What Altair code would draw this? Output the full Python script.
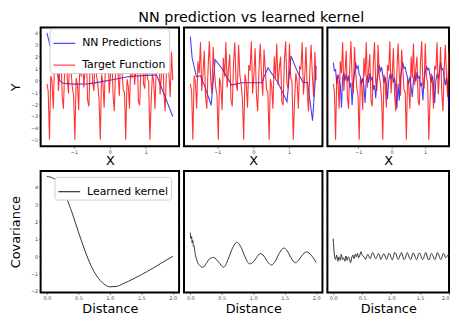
import altair as alt
import pandas as pd
import numpy as np

FONT = "DejaVu Sans"

# ---------------- data ----------------
x_grid = np.linspace(-1.75, 1.75, 100)
target = [
    -0.3, -0.9, -5.0, 0.4, -0.1, -2.4, 1.6, 0.6, 3.2, -0.9,
    0.6, 2.5, -1.4, -2.4, 1.1, 3.3, 0.1, -1.1, 2.8, 0.7,
    -0.6, -1.3, -5.0, 0.2, -0.4, -2.5, 1.9, 0.3, 3.2, -0.6,
    0.9, 2.2, -1.7, -2.2, 1.4, 3.2, -0.2, -0.9, 3.0, 0.4,
    -0.3, -1.6, -5.0, 0.5, -0.2, -2.3, 1.3, 0.8, 3.3, -1.1,
    0.4, 2.7, -1.2, -2.6, 0.8, 3.1, 0.4, -1.3, 2.6, 0.9,
    -0.8, -1.0, -5.0, 0.1, -0.5, -2.4, 2.0, 0.2, 3.1, -0.4,
    1.0, 2.0, -1.8, -2.1, 1.6, 3.3, -0.3, -0.7, 3.1, 0.2,
    -0.1, -5.0, -1.8, 0.6, -0.1, -2.4, 1.2, 0.9, 3.2, -1.2,
    0.3, 2.8, -1.0, -2.6, 0.7, 3.0, 0.5, -1.4, 2.4, 0.0,
]
nn1_x = [-1.75, -1.55, -1.40, -1.30, -1.0, -0.6, -0.3, 0.0, 0.5, 1.0, 1.3, 1.75]
nn1_y = [4.0, 1.5, 0.0, -0.25, -0.32, -0.3, -0.15, 0.0, 0.3, 0.42, 0.45, -3.05]
nn2_x = [-1.75, -1.70, -1.58, -1.47, -1.36, -1.17, -1.06, -0.87, -0.60, -0.32,
         0.23, 0.41, 0.69, 0.94, 1.05, 1.24, 1.38, 1.51, 1.65, 1.75]
nn2_y = [3.7, 1.9, 0.3, 0.4, -0.4, -2.1, 1.75, 1.0, -0.4, -0.2,
         -0.2, 1.05, -0.2, -1.8, 2.05, 0.65, -0.15, -0.2, -3.4, 1.2]
nn3_y = [
    1.5, 0.8, 0.9, -0.3, 0.5, 0.1, -0.4, -2.3, 0.3, 0.6,
    0.0, 0.5, -0.1, 0.4, -0.6, -0.2, -2.1, -0.3, 0.6, 1.5,
    1.0, 1.2, 0.5, 0.3, -0.3, 0.2, -0.5, -1.9, 0.1, 0.4,
    -0.2, 0.6, 0.0, 0.3, -0.8, -0.4, -1.5, 0.0, 0.5, 1.3,
    0.8, 1.1, 0.4, -0.2, 0.3, -0.4, -1.6, -0.1, 0.5, 0.1,
    0.6, -0.2, 0.2, -0.6, -2.4, -0.3, -1.7, 0.2, 0.9, 1.5,
    1.0, 1.1, 0.6, 0.2, -0.3, 0.3, -0.5, -1.4, 0.0, 0.5,
    -0.1, 0.7, 0.2, 0.3, -0.5, -0.2, -1.7, 0.1, 0.6, 1.2,
    0.9, 1.0, 0.4, -0.2, 0.4, -0.3, -1.9, 0.0, 0.5, 0.2,
    0.7, 1.5, 0.9, 1.0, 0.3, -0.4, 0.2, -0.6, -2.4, 0.3,
]
k1_x = [0.0, 0.1, 0.2, 0.3, 0.4, 0.5, 0.6, 0.7, 0.8, 0.9, 1.0,
        1.1, 1.2, 1.3, 1.4, 1.5, 1.6, 1.7, 1.8, 1.9, 2.0]
k1_y = [4.6, 4.5, 4.15, 3.45, 2.5, 1.4, 0.35, -0.55, -1.2, -1.6, -1.78,
        -1.76, -1.62, -1.45, -1.27, -1.08, -0.88, -0.67, -0.45, -0.23, -0.02]
k2_x = [0.0, 0.01, 0.02, 0.03, 0.04, 0.05, 0.06, 0.07, 0.08, 0.1, 0.15, 0.2, 0.25,
        0.3, 0.37, 0.45, 0.53, 0.6, 0.67, 0.74, 0.8, 0.87, 0.94, 1.0, 1.05, 1.11,
        1.17, 1.23, 1.29, 1.35, 1.42, 1.48, 1.54, 1.6, 1.67, 1.73, 1.79, 1.85, 1.92, 2.0]
k2_y = [1.35, 1.0, 1.15, 0.75, 0.9, 0.55, 0.6, 0.3, 0.1, -0.2, -0.55, -0.65, -0.45,
        -0.18, -0.08, -0.35, -0.65, -0.2, 0.45, 0.8, 0.55, -0.05, -0.45, -0.35, -0.1, 0.14,
        0.0, -0.35, -0.52, -0.3, 0.2, 0.46, 0.3, -0.1, -0.39, -0.2, 0.1, 0.24, 0.05, -0.37]
k3_y = [
    1.0, 0.1, -0.2, 0.05, -0.3, -0.05, -0.25, 0.1, -0.2, -0.1,
    -0.3, 0.0, -0.25, -0.05, -0.15, -0.38, -0.1, 0.05, -0.15, 0.1,
    -0.05, 0.15, -0.1, 0.05, 0.25, 0.05, 0.0, -0.1, -0.2, 0.0,
    0.1, -0.05, -0.15, 0.05, 0.2, 0.1, -0.1, -0.15, 0.0, 0.15,
    0.05, -0.2, -0.1, 0.1, 0.12, -0.05, -0.2, -0.05, 0.15, 0.1,
    -0.1, -0.22, -0.05, 0.2, 0.15, -0.05, -0.2, -0.1, 0.1, 0.2,
    0.0, -0.2, -0.15, 0.05, 0.2, 0.05, -0.15, -0.2, 0.0, 0.18,
    0.1, -0.1, -0.22, -0.05, 0.15, 0.15, -0.05, -0.2, -0.15, 0.1,
    0.2, 0.0, -0.2, -0.2, 0.05, 0.15, 0.05, -0.15, -0.2, 0.0,
    0.2, 0.1, -0.1, -0.2, -0.05, 0.15, 0.1, -0.1, -0.05, 0.05, 0.0,
]
k3_x = np.linspace(0, 2, len(k3_y))

top_ticks_x = [-1, 0, 1]
top_ticks_y = [-5, -4, -3, -2, -1, 0, 1, 2, 3, 4]
bot_ticks_x = [0.0, 0.5, 1.0, 1.5, 2.0]
bot_ticks_y = [-2, -1, 0, 1, 2, 3, 4]

# ---------------- chart ----------------
WIDTHS = [140, 140, 123]
H_TOP, H_BOT = 120, 123
XDOM_TOP = [[-1.925, 1.925], [-1.925, 1.925], [-1.925, 1.72]]
XDOM_BOT = [[-0.1, 2.1], [-0.1, 2.1], [-0.1, 2.0]]
ys_top = alt.Scale(domain=[-5.55, 4.45], nice=False, zero=False)
ys_bot = alt.Scale(domain=[-2.11, 4.92], nice=False, zero=False)


def ax(values, title=None, labels=True, fmt=None, tpad=2):
    kw = dict(values=values, labels=labels, titlePadding=tpad, title=title)
    if fmt:
        kw["format"] = fmt
    return alt.Axis(**kw)


def make_legend(x, y):
    return alt.Legend(orient="none", legendX=x, legendY=y, title=None,
                      symbolType="stroke", symbolSize=484, symbolStrokeWidth=1.2,
                      labelFontSize=11, labelFont=FONT, labelColor="black",
                      fillColor="white", strokeColor="#cccccc", padding=3,
                      cornerRadius=3, rowPadding=5, labelOffset=6)


def top_panel(nn_df, idx):
    tgt_df = pd.DataFrame({"x": x_grid, "y": target, "s": "Target Function"})
    nn_df = nn_df.assign(s="NN Predictions")
    xs = alt.Scale(domain=XDOM_TOP[idx], nice=False, zero=False)
    xenc = alt.X("x:Q", scale=xs, axis=ax(top_ticks_x, "X", fmt="d", tpad=1))
    yenc = alt.Y("y:Q", scale=ys_top,
                 axis=ax(top_ticks_y, "Y" if idx == 0 else None, labels=(idx == 0), fmt="d", tpad=8))
    if idx == 0:
        color = alt.Color(
            "s:N",
            scale=alt.Scale(domain=["NN Predictions", "Target Function"], range=["blue", "red"]),
            legend=make_legend(9, 1),
        )
        bc, rc = color, color
    else:
        bc, rc = alt.value("blue"), alt.value("red")
    blue = alt.Chart(nn_df).mark_line(strokeWidth=1.1, opacity=0.75, clip=True).encode(
        x=xenc, y=yenc, color=bc)
    red = alt.Chart(tgt_df).mark_line(strokeWidth=1.1, opacity=0.8, clip=True).encode(
        x=xenc, y=yenc, color=rc)
    return alt.layer(blue, red).properties(width=WIDTHS[idx], height=H_TOP)


def bot_panel(kx, ky, idx):
    df = pd.DataFrame({"x": kx, "y": ky, "s": "Learned kernel"})
    xs = alt.Scale(domain=XDOM_BOT[idx], nice=False, zero=False)
    xenc = alt.X("x:Q", scale=xs, axis=ax(bot_ticks_x, "Distance", fmt=".1f", tpad=2))
    yenc = alt.Y("y:Q", scale=ys_bot,
                 axis=ax(bot_ticks_y, "Covariance" if idx == 0 else None, labels=(idx == 0), fmt="d", tpad=8))
    if idx == 0:
        color = alt.Color(
            "s:N",
            scale=alt.Scale(domain=["Learned kernel"], range=["#333333"]),
            legend=make_legend(14, 6),
        )
    else:
        color = alt.value("#333333")
    return alt.Chart(df).mark_line(strokeWidth=1, clip=True, interpolate="monotone").encode(
        x=xenc, y=yenc, color=color).properties(width=WIDTHS[idx], height=H_BOT)


top = alt.hconcat(
    top_panel(pd.DataFrame({"x": nn1_x, "y": nn1_y}), 0),
    top_panel(pd.DataFrame({"x": nn2_x, "y": nn2_y}), 1),
    top_panel(pd.DataFrame({"x": x_grid, "y": nn3_y}), 2),
    spacing=5, bounds="flush",
).resolve_scale(color="independent").resolve_legend(color="independent")

bot = alt.hconcat(
    bot_panel(k1_x, k1_y, 0),
    bot_panel(k2_x, k2_y, 1),
    bot_panel(k3_x, k3_y, 2),
    spacing=5, bounds="flush",
).resolve_scale(color="independent").resolve_legend(color="independent")

chart = alt.vconcat(top, bot, spacing=1).resolve_scale(
    color="independent").resolve_legend(color="independent").properties(
    title=alt.TitleParams("NN prediction vs learned kernel", fontSize=14.5, font=FONT,
                          fontWeight="normal", anchor="middle", offset=1, dx=22, color="black"),
    padding=0,
).configure(font=FONT).configure_view(
    stroke="black", strokeWidth=2
).configure_axis(
    labelFontSize=5, labelColor="#444444", tickSize=2, tickWidth=0.6, tickColor="#333333",
    domain=False, grid=False, titleFontSize=13, titleFontWeight="normal", titleColor="black",
    labelPadding=1, titleFont=FONT, labelFont=FONT,
)

chart.save("out.html", embed_options={"renderer": "svg", "actions": False})
